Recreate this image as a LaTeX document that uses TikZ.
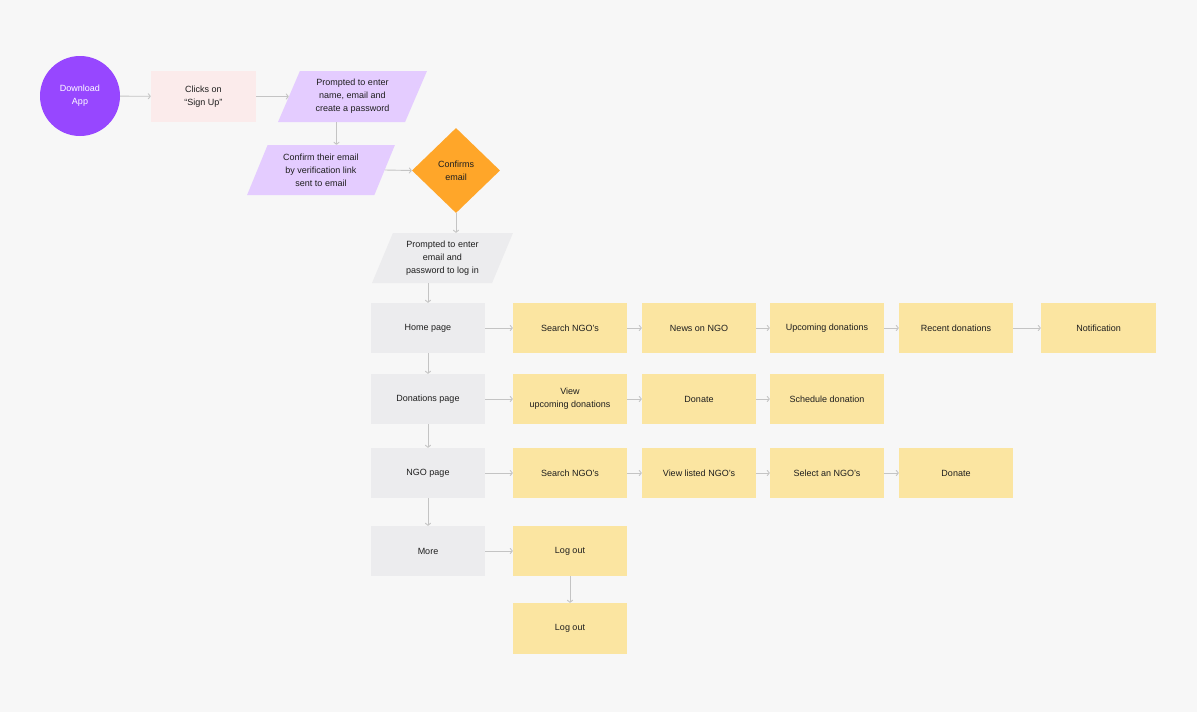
\documentclass[tikz,border=0pt]{standalone}
\usepackage{fontspec}
\setmainfont{Liberation Sans}
\usetikzlibrary{shapes.geometric,arrows.meta}
\definecolor{bg}{HTML}{F7F7F7}
\definecolor{purp}{HTML}{9747FF}
\definecolor{pinkf}{HTML}{FBEBEB}
\definecolor{lpurp}{HTML}{E4CCFF}
\definecolor{orng}{HTML}{FFA629}
\definecolor{grayf}{HTML}{ECECEE}
\definecolor{yell}{HTML}{FBE5A1}
\definecolor{arr}{HTML}{C4C4C4}
\definecolor{txt}{HTML}{1E1E1E}
\tikzset{
  base/.style={inner sep=0pt, align=center, text=txt, font=\fontsize{9}{13}\selectfont},
  box/.style={base, rectangle, minimum width=114pt, minimum height=50pt},
  graybox/.style={box, fill=grayf},
  yelbox/.style={box, fill=yell},
  para/.style={base, trapezium, trapezium left angle=66, trapezium right angle=114,
     trapezium stretches, minimum width=149pt, minimum height=51pt},
  conn/.style={draw=arr, line width=0.9pt, -{To[length=3pt,width=6pt]}},
}
\begin{document}
\begin{tikzpicture}[x=1pt,y=-1pt]
\fill[bg] (0,0) rectangle (1197,712);
\useasboundingbox (0,0) rectangle (1197,712);

\node[circle, fill=purp, minimum size=80pt, base, text=white] (dl) at (80,96) {Download\\App};
\node[box, fill=pinkf, minimum width=105pt, minimum height=51pt] (su) at (203.5,96.5) {Clicks on\\``Sign Up''};
\node[para, fill=lpurp] (p1) at (352.5,96.5) {Prompted to enter\\name, email and\\create a password};
\node[para, fill=lpurp, minimum width=148pt, minimum height=50pt] (p2) at (321,170) {Confirm their email\\by verification link\\sent to email};
\node[diamond, fill=orng, base, minimum width=88pt, minimum height=85pt, aspect=1.035] (ce) at (456,170.5) {Confirms\\email};
\node[para, fill=grayf, minimum width=141pt, minimum height=50pt] (p3) at (442.5,258) {Prompted to enter\\email and\\password to log in};

\node[graybox] (home) at (428,328) {Home page};
\node[graybox] (don) at (428,399) {Donations page};
\node[graybox] (ngo) at (428,473) {NGO page};
\node[graybox] (more) at (428,551) {More};

\node[yelbox] (h1) at (570,328) {Search NGO's};
\node[yelbox] (h2) at (699,328) {News on NGO};
\node[yelbox] (h3) at (827,328) {Upcoming donations};
\node[yelbox] (h4) at (956,328) {Recent donations};
\node[yelbox, minimum width=115pt] (h5) at (1098.5,328) {Notification};

\node[yelbox] (d1) at (570,399) {View\\upcoming donations};
\node[yelbox] (d2) at (699,399) {Donate};
\node[yelbox] (d3) at (827,399) {Schedule donation};

\node[yelbox] (n1) at (570,473) {Search NGO's};
\node[yelbox] (n2) at (699,473) {View listed NGO's};
\node[yelbox] (n3) at (827,473) {Select an NGO's};
\node[yelbox] (n4) at (956,473) {Donate};

\node[yelbox] (m1) at (570,551) {Log out};
\node[yelbox, minimum height=51pt] (m2) at (570,628.5) {Log out};

\draw[conn] (dl) -- (su);
\draw[conn] (su) -- (p1.west);
\draw[conn] ([xshift=-16pt]p1.south) -- ([xshift=-16pt]p1.south |- p2.north);
\draw[conn] (p2.east) -- (ce.west);
\draw[conn] (ce.south) -- (ce.south |- p3.north);
\draw[conn] (home.north |- p3.south) -- (home.north);
\draw[conn] (home) -- (don);
\draw[conn] (don) -- (ngo);
\draw[conn] (ngo) -- (more);
\draw[conn] (m1) -- (m2);

\draw[conn] (home) -- (h1);
\draw[conn] (h1) -- (h2);
\draw[conn] (h2) -- (h3);
\draw[conn] (h3) -- (h4);
\draw[conn] (h4) -- (h5);
\draw[conn] (don) -- (d1);
\draw[conn] (d1) -- (d2);
\draw[conn] (d2) -- (d3);
\draw[conn] (ngo) -- (n1);
\draw[conn] (n1) -- (n2);
\draw[conn] (n2) -- (n3);
\draw[conn] (n3) -- (n4);
\draw[conn] (more) -- (m1);
\end{tikzpicture}
\end{document}
